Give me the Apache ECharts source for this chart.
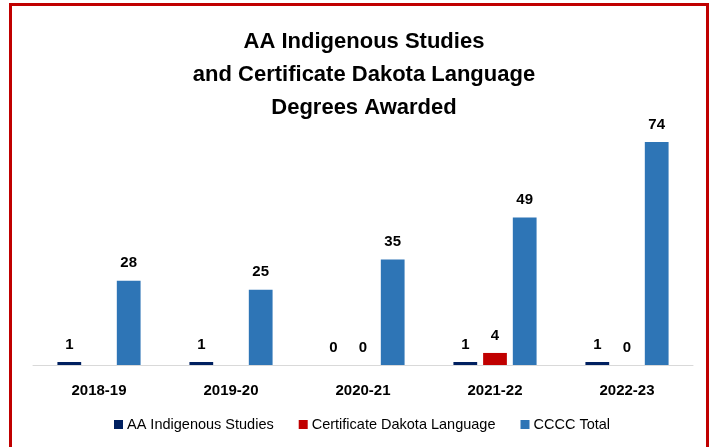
<!DOCTYPE html>
<html><head><meta charset="utf-8">
<script src="https://cdn.jsdelivr.net/npm/echarts@6/dist/echarts.min.js"></script>
<style>html,body{margin:0;padding:0;background:#fff}#c{width:713px;height:447px}</style>
</head><body><div id="c"></div>
<script>
const categories = ['2018-19', '2019-20', '2020-21', '2021-22', '2022-23'];
const aaIndigenous = [1, 1, 0, 1, 1];
const certDakota = [null, null, 0, 4, 0];
const ccccTotal = [28, 25, 35, 49, 74];
const seriesNames = ['AA Indigenous Studies', 'Certificate Dakota Language', 'CCCC Total'];
const titleText = 'AA Indigenous Studies\nand Certificate Dakota Language\nDegrees Awarded';

const FONT = '"Liberation Sans", Arial, sans-serif';
const chart = echarts.init(document.getElementById('c'), null, {renderer: 'canvas'});
const lbl = {show: true, position: 'top', distance: 10, color: '#000', fontWeight: 'bold', fontSize: 15, fontFamily: FONT};
chart.setOption({
  animation: false,
  backgroundColor: '#fff',
  title: {
    text: titleText, left: 364, textAlign: 'center', top: 25, padding: 0,
    textStyle: {fontFamily: FONT, fontWeight: 'bold', fontSize: 22, lineHeight: 33, color: '#000'}
  },
  legend: {
    bottom: 10, left: 109, icon: 'rect', itemWidth: 9, itemHeight: 9, itemGap: 25,
    textStyle: {fontFamily: FONT, fontSize: 14.5, color: '#000', padding: [0, 0, 0, -1]},
    data: seriesNames
  },
  grid: {left: 33, right: 20, top: 124, bottom: 82},
  xAxis: {
    type: 'category', data: categories,
    axisLine: {lineStyle: {color: '#d9d9d9', width: 1}},
    axisTick: {show: false},
    axisLabel: {color: '#000', fontWeight: 'bold', fontSize: 15, fontFamily: FONT, margin: 18}
  },
  yAxis: {type: 'value', min: 0, max: 80, show: false, splitLine: {show: false}},
  series: [
    {name: seriesNames[0], type: 'bar', data: aaIndigenous, itemStyle: {color: '#002060'}, label: lbl, barGap: '25%', barCategoryGap: '37%'},
    {name: seriesNames[1], type: 'bar', data: certDakota, itemStyle: {color: '#c00000'}, label: lbl},
    {name: seriesNames[2], type: 'bar', data: ccccTotal, itemStyle: {color: '#2e75b6'}, label: lbl}
  ],
  graphic: [{
    type: 'rect', silent: true, z: 100,
    shape: {x: 10.5, y: 4.5, width: 697, height: 520},
    style: {fill: 'none', stroke: '#c00000', lineWidth: 3}
  }]
});
</script></body></html>
